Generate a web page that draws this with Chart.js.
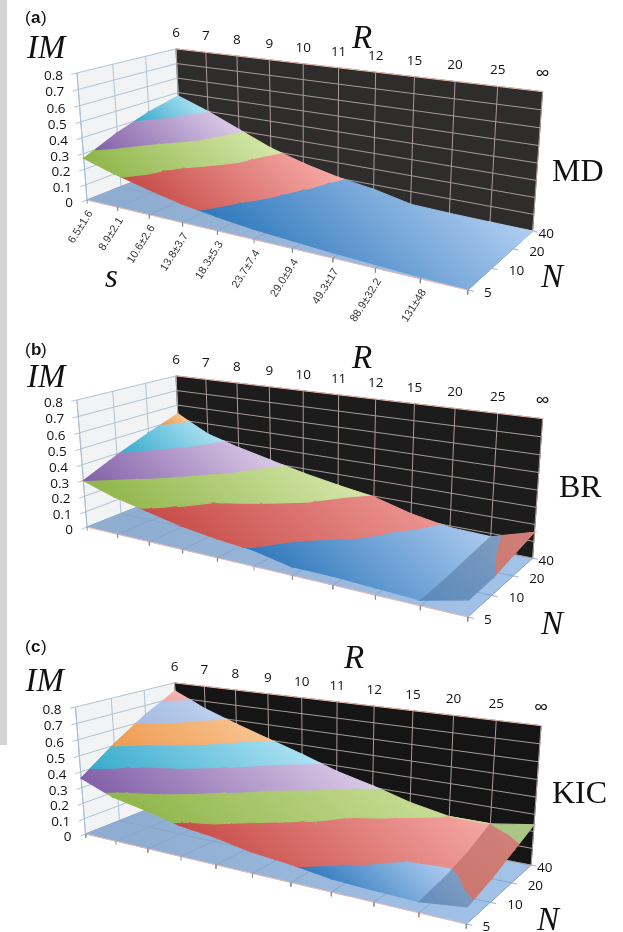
<!DOCTYPE html>
<html>
<head>
<meta charset="utf-8">
<title>IM surfaces</title>
<script src="https://cdn.jsdelivr.net/npm/chart.js@4/dist/chart.umd.min.js"></script>
<style>
html,body{margin:0;padding:0;background:#fff;}
#side{position:absolute;left:0;top:0;width:7px;height:745px;background:#d4d4d4;}
#wrap{position:absolute;left:0;top:0;width:623px;height:932px;}
</style>
</head>
<body>
<div id="side"></div>
<div id="wrap"><canvas id="surfaces" width="623" height="932"></canvas></div>
<script>
const R_LABELS=['6','7','8','9','10','11','12','15','20','25','∞'];
const N_LABELS=['5','10','20','40'];
const IM_TICKS=[0,0.1,0.2,0.3,0.4,0.5,0.6,0.7,0.8];
const S_LABELS=['6.5±1.6','8.9±2.1','10.6±2.6','13.8±3.7','18.3±5.3','23.7±7.4','29.0±9.4','49.3±17','88.9±32.2','131±48'];

const MD_N5=[0.27,0.21,0.16,0.115,0.085,0.06,0.045,0.03,0.02,0.01,0.005];
const MD_N10=[0.36,0.27,0.19,0.14,0.105,0.08,0.06,0.03,0.02,0.01,0.005];
const MD_N20=[0.43,0.355,0.27,0.19,0.125,0.09,0.065,0.03,0.015,0.01,0.005];
const MD_N40=[0.476,0.40,0.31,0.22,0.156,0.105,0.07,0.02,0.01,0.005,0];

const BR_N5=[0.3,0.235,0.19,0.145,0.115,0.095,0.05,0.05,0.04,0.03,0.09];
const BR_N10=[0.39,0.33,0.27,0.2,0.165,0.125,0.095,0.07,0.05,0.04,0.095];
const BR_N20=[0.47,0.40,0.34,0.28,0.24,0.195,0.15,0.1,0.07,0.06,0.125];
const BR_N40=[0.54,0.43,0.37,0.32,0.27,0.23,0.195,0.13,0.09,0.08,0.155];

const KIC_N5=[0.36,0.28,0.24,0.19,0.165,0.125,0.105,0.075,0.065,0.06,0.09];
const KIC_N10=[0.51,0.41,0.36,0.29,0.23,0.19,0.155,0.12,0.09,0.085,0.13];
const KIC_N20=[0.64,0.57,0.49,0.41,0.32,0.27,0.205,0.165,0.13,0.13,0.185];
const KIC_N40=[0.745,0.65,0.576,0.507,0.44,0.365,0.31,0.245,0.2,0.2,0.24];

const panels=[
    {rows:[MD_N5,MD_N10,MD_N20,MD_N40],ox:0,oy:0,wall:'#2f2c2c',letter:'a',name:'MD',tagY:23,imY:58,rX:352,rY:48,nX:541,nY:287,nameX:552,nameY:181,sLabels:S_LABELS},
    {rows:[BR_N5,BR_N10,BR_N20,BR_N40],ox:0,oy:327,wall:'#1d1c1c',letter:'b',name:'BR',tagY:355,imY:387,rX:352,rY:368,nX:541,nY:634,nameX:559,nameY:497,sLabels:[]},
    {rows:[KIC_N5,KIC_N10,KIC_N20,KIC_N40],ox:-1.5,oy:634,wall:'#161515',letter:'c',name:'KIC',tagY:652,imY:691,rX:344,rY:668,nX:537,nY:930,nameX:552,nameY:803,sLabels:[]}
];

// one colour pair per 0.1 wide band of IM, dark end first
const bandColors=[
    ['#2f78bc','#b0cdf0'],
    ['#c74c48','#f6aaa6'],
    ['#8fb54a','#d4e6a8'],
    ['#8260a8','#dac9e6'],
    ['#38abcc','#ace1f3'],
    ['#ee9b50','#f8c390'],
    ['#a4bbe0','#bcd0ee'],
    ['#f0a8a8','#f4b4b4']
];
const shadeColors=[
    ['#3b79b6','#7f9cc0'],
    ['#c4605b','#cf8079'],
    ['#9dbb70','#abc787']
];

// camera of the 3d box: u along R, v along N, w along IM
const cam={x0:87,y0:200,ax:278,ay:26.2,bx:117,by:-17,cx:-13.2,cy:-130,du:-0.22,dv:0.125,dw:-0.041};
const depth=(u,v,w)=>1+cam.du*u+cam.dv*v+cam.dw*w;
const project=(p,u,v,w)=>{
    const d=depth(u,v,w);
    return {x:(cam.x0+cam.ax*u+cam.bx*v+cam.cx*w)/d+p.ox,y:(cam.y0+cam.ay*u+cam.by*v+cam.cy*w)/d+p.oy};
};

const canvas=document.getElementById('surfaces');
const ctx=canvas.getContext('2d');
const datasets=[];

const addShape=(pts,fill,stroke,width)=>{
    datasets.push({data:pts.concat([pts[0]]),showLine:true,fill:'shape',backgroundColor:fill,borderColor:stroke||fill,borderWidth:width===undefined?0.7:width,pointRadius:0,tension:0});
};
const addLine=(a,b,color,width)=>{
    datasets.push({data:[a,b],showLine:true,fill:false,borderColor:color,borderWidth:width||1,pointRadius:0,tension:0});
};

const clipAbove=(poly,level,keepAbove)=>{
    const out=[];
    poly.forEach((a,i)=>{
        const b=poly[(i+1)%poly.length];
        const aIn=keepAbove?a.z>=level:a.z<=level;
        const bIn=keepAbove?b.z>=level:b.z<=level;
        if(aIn) out.push(a);
        if(aIn!==bIn){
            const t=(level-a.z)/(b.z-a.z);
            out.push({u:a.u+(b.u-a.u)*t,v:a.v+(b.v-a.v)*t,z:level});
        }
    });
    return out;
};

const drawBox=(p)=>{
    const nR=R_LABELS.length-1, nN=N_LABELS.length-1;
    // left wall, back wall, floor
    addShape([project(p,0,0,0),project(p,0,1,0),project(p,0,1,1),project(p,0,0,1)],'#f2f3f4');
    addShape([project(p,0,1,0),project(p,1,1,0),project(p,1,1,1),project(p,0,1,1)],p.wall);
    const fa=project(p,0,0.5,0), fb=project(p,1,0.5,0);
    const floorFill=ctx.createLinearGradient(fa.x,fa.y,fb.x,fb.y);
    floorFill.addColorStop(0,'#8fadd0');
    floorFill.addColorStop(1,'#a3c2e8');
    addShape([project(p,0,0,0),project(p,1,0,0),project(p,1,1,0),project(p,0,1,0)],floorFill);
    IM_TICKS.forEach((t)=>{
        const w=t/0.8;
        addLine(project(p,0,0,w),project(p,0,1,w),'#b0c4d6',1);
        addLine(project(p,0,1,w),project(p,1,1,w),t===0.8?'#efb7a8':'#a79a98',1);
        addLine(project(p,0,-0.05,w),project(p,0,0,w),'#b0c4d6',1);
    });
    for(let j=0;j<=nN;j++){
        const v=j/nN;
        if(j<nN) addLine(project(p,0,v,0),project(p,1,v,0),j===0?'#e9b9ae':'#87a6ca',1);
        addLine(project(p,0,v,0),project(p,0,v,1),'#b0c4d6',1);
        addLine(project(p,1,v,0),project(p,1.012,v,0),'#9fb0c4',1);
    }
    for(let i=0;i<=nR;i++){
        const u=i/nR;
        addLine(project(p,u,0,0),project(p,u,1,0),'#87a6ca',1);
        addLine(project(p,u,1,0),project(p,u,1,1),'#a79a98',1);
        addLine(project(p,u,0,0),project(p,u,0,-0.03),'#8a8f96',1);
    }
    addLine(project(p,0,0,0),project(p,0,0,1),'#a9bfd3',1);
};

const drawSurface=(p)=>{
    const nR=R_LABELS.length-1, nN=N_LABELS.length-1;
    const pieces=[];
    for(let j=nN-1;j>=0;j--){
        for(let i=0;i<nR;i++){
            const z=(a,b)=>p.rows[b][a];
            const c=[
                {u:i/nR,v:j/nN,z:z(i,j)},
                {u:(i+1)/nR,v:j/nN,z:z(i+1,j)},
                {u:(i+1)/nR,v:(j+1)/nN,z:z(i+1,j+1)},
                {u:i/nR,v:(j+1)/nN,z:z(i,j+1)}
            ];
            const mid={u:(i+0.5)/nR,v:(j+0.5)/nN,z:(c[0].z+c[1].z+c[2].z+c[3].z)/4};
            const rising=(c[1].z+c[2].z-c[0].z-c[3].z)/2>0.025;
            const tris=[[c[3],c[2],mid],[c[0],c[3],mid],[c[2],c[1],mid],[c[1],c[0],mid]];
            tris.forEach((t)=>{
                bandColors.forEach((col,k)=>{
                    let poly=clipAbove(t,k*0.1,true);
                    if(poly.length) poly=clipAbove(poly,(k+1)*0.1,false);
                    if(poly.length>2) pieces.push({band:k,rising,pts:poly.map((q)=>project(p,q.u,q.v,q.z/0.8))});
                });
            });
        }
    }
    // lighter towards the back right, so each band gets one gradient across its own extent
    const gx=0.7, gy=-0.71;
    const fills={};
    bandColors.forEach((col,k)=>{
        let lo=Infinity, hi=-Infinity, lx=0, ly=0;
        pieces.filter((s)=>s.band===k).forEach((s)=>s.pts.forEach((q)=>{
            const d=q.x*gx+q.y*gy;
            if(d<lo){lo=d;lx=q.x;ly=q.y;}
            if(d>hi) hi=d;
        }));
        if(hi>lo){
            const len=hi-lo;
            const mk=(pair)=>{
                const g=ctx.createLinearGradient(lx,ly,lx+gx*len,ly+gy*len);
                g.addColorStop(0,pair[0]);
                g.addColorStop(1,pair[1]);
                return g;
            };
            fills[k]=mk(col);
            if(shadeColors[k]) fills['s'+k]=mk(shadeColors[k]);
        }
    });
    pieces.forEach((s)=>{
        const f=(s.rising&&fills['s'+s.band])||fills[s.band];
        addShape(s.pts,f,f,1.1);
    });
};

panels.forEach((p)=>{
    drawBox(p);
    drawSurface(p);
});
// chart.js paints the first dataset last
datasets.reverse();

const labelPlugin={
    id:'labels',
    afterDraw(chart){
        const c=chart.ctx;
        const put=(txt,x,y,font,align,color)=>{
            c.font=font;
            c.textAlign=align||'left';
            c.fillStyle=color||'#111';
            c.fillText(txt,x,y);
        };
        c.save();
        c.textBaseline='alphabetic';
        panels.forEach((p)=>{
            const nR=R_LABELS.length-1;
            put('(',25,p.tagY,'17px "Liberation Sans"');
            put(p.letter,31,p.tagY,'bold 17px "Liberation Sans"');
            put(')',41,p.tagY,'17px "Liberation Sans"');
            put('IM',27+p.ox,p.imY,'italic 33px "Liberation Serif"');
            put('R',p.rX,p.rY,'italic 33px "Liberation Serif"');
            put('N',p.nX,p.nY,'italic 33px "Liberation Serif"');
            put(p.name,p.nameX,p.nameY,'32px "Liberation Serif"');
            R_LABELS.forEach((t,i)=>{
                const q=project(p,i/nR,1,1);
                put(t,q.x,q.y-12,t==='∞'?'20px "Open Sans"':'13.5px "Open Sans"','center');
            });
            IM_TICKS.forEach((t)=>{
                const q=project(p,0,0,t/0.8);
                put(t===0?'0':t.toFixed(1),q.x-14,q.y+7,'13.5px "Open Sans"','right');
            });
            const nDx=[16,17,16,6];
            N_LABELS.forEach((t,j)=>{
                const q=project(p,1,j/3,0);
                put(t,q.x+nDx[j],q.y+7,'13.5px "Open Sans"');
            });
            p.sLabels.forEach((t,i)=>{
                const q=project(p,i/nR,0,0);
                c.save();
                c.translate(q.x+6,q.y+13);
                c.rotate(-58*Math.PI/180);
                put(t,0,0,'11px "Liberation Sans"','right','#333');
                c.restore();
            });
        });
        put('s',105,287,'italic 33px "Liberation Serif"');
        c.restore();
    }
};

new Chart(ctx,{
    type:'scatter',
    data:{datasets:datasets},
    plugins:[labelPlugin],
    options:{
        responsive:false,
        animation:false,
        events:[],
        layout:{padding:0},
        plugins:{legend:{display:false},tooltip:{enabled:false},title:{display:false}},
        scales:{
            x:{type:'linear',min:0,max:623,display:false},
            y:{type:'linear',min:0,max:932,reverse:true,display:false}
        }
    }
});
</script>
</body>
</html>
